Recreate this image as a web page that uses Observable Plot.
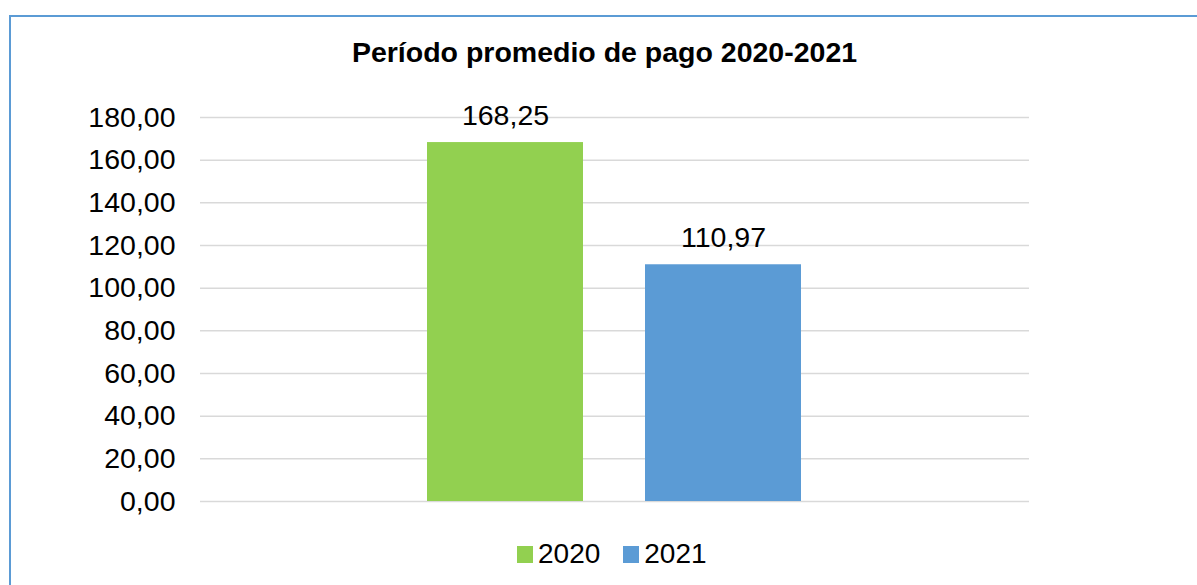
<!DOCTYPE html>
<html>
<head>
<meta charset="utf-8">
<script src="https://cdn.jsdelivr.net/npm/d3@7"></script>
<script src="https://cdn.jsdelivr.net/npm/@observablehq/plot@0.6"></script>
<style>
  html, body { margin: 0; padding: 0; background: #fff; overflow: hidden; }
  #wrap { position: relative; width: 1197px; height: 585px; font-family: "Liberation Sans", Arial, sans-serif; }
  #frame { position: absolute; left: 9px; top: 15px; width: 1300px; height: 700px; border-top: 2px solid #5b9bd5; border-left: 2px solid #5b9bd5; box-sizing: border-box; }
  #title { position: absolute; left: 0; top: 38px; width: 1209px; text-align: center; font-weight: bold; font-size: 28.5px; line-height: 28.5px; color: #000; }
  #chart { position: absolute; left: 0; top: 0; }
  #legend { position: absolute; left: 517px; top: 540px; display: flex; align-items: center; font-size: 28px; line-height: 28px; color: #000; }
  .item { display: flex; align-items: center; margin-right: 23px; }
  .sw { width: 16px; height: 17px; margin-right: 5px; }
</style>
</head>
<body>
<div id="wrap">
  <div id="frame"></div>
  <div id="title"></div>
  <div id="chart"></div>
  <div id="legend"></div>
</div>
<script>
const titleText = "Período promedio de pago 2020-2021";
const years = ["2020", "2021"];
const values = [168.25, 110.97];
const colors = ["#92d050", "#5b9bd5"];
const yTicks = [0, 20, 40, 60, 80, 100, 120, 140, 160, 180];

const fmt = d => d.toFixed(2).replace(".", ",");
const data = years.map((y, i) => ({year: y, value: values[i]}));

document.getElementById("title").textContent = titleText;

const plot = Plot.plot({
  width: 1197,
  height: 585,
  marginLeft: 200,
  marginRight: 168,
  marginTop: 117,
  marginBottom: 84,
  style: {fontFamily: "'Liberation Sans', Arial, sans-serif", fontSize: "28.5px", color: "#000", background: "transparent"},
  x: {domain: years, paddingInner: 0.284, paddingOuter: 1.043, axis: null},
  y: {domain: [0, 180], ticks: yTicks, axis: null},
  color: {domain: years, range: colors},
  marks: [
    Plot.ruleY(yTicks, {stroke: "#d9d9d9", strokeWidth: 1.5}),
    Plot.axisY({ticks: yTicks, tickFormat: fmt, tickSize: 0, tickPadding: 25, fontSize: 28.5, fill: "#000", label: null}),
    Plot.barY(data, {x: "year", y: "value", fill: "year"}),
    Plot.text(data, {x: "year", y: "value", text: d => fmt(d.value), lineAnchor: "bottom", dy: -18, fontSize: 28.5, fill: "#000"})
  ]
});
document.getElementById("chart").appendChild(plot);

const legend = document.getElementById("legend");
years.forEach((y, i) => {
  const item = document.createElement("div");
  item.className = "item";
  const sw = document.createElement("div");
  sw.className = "sw";
  sw.style.background = colors[i];
  const t = document.createElement("span");
  t.textContent = y;
  item.appendChild(sw);
  item.appendChild(t);
  legend.appendChild(item);
});
</script>
</body>
</html>
